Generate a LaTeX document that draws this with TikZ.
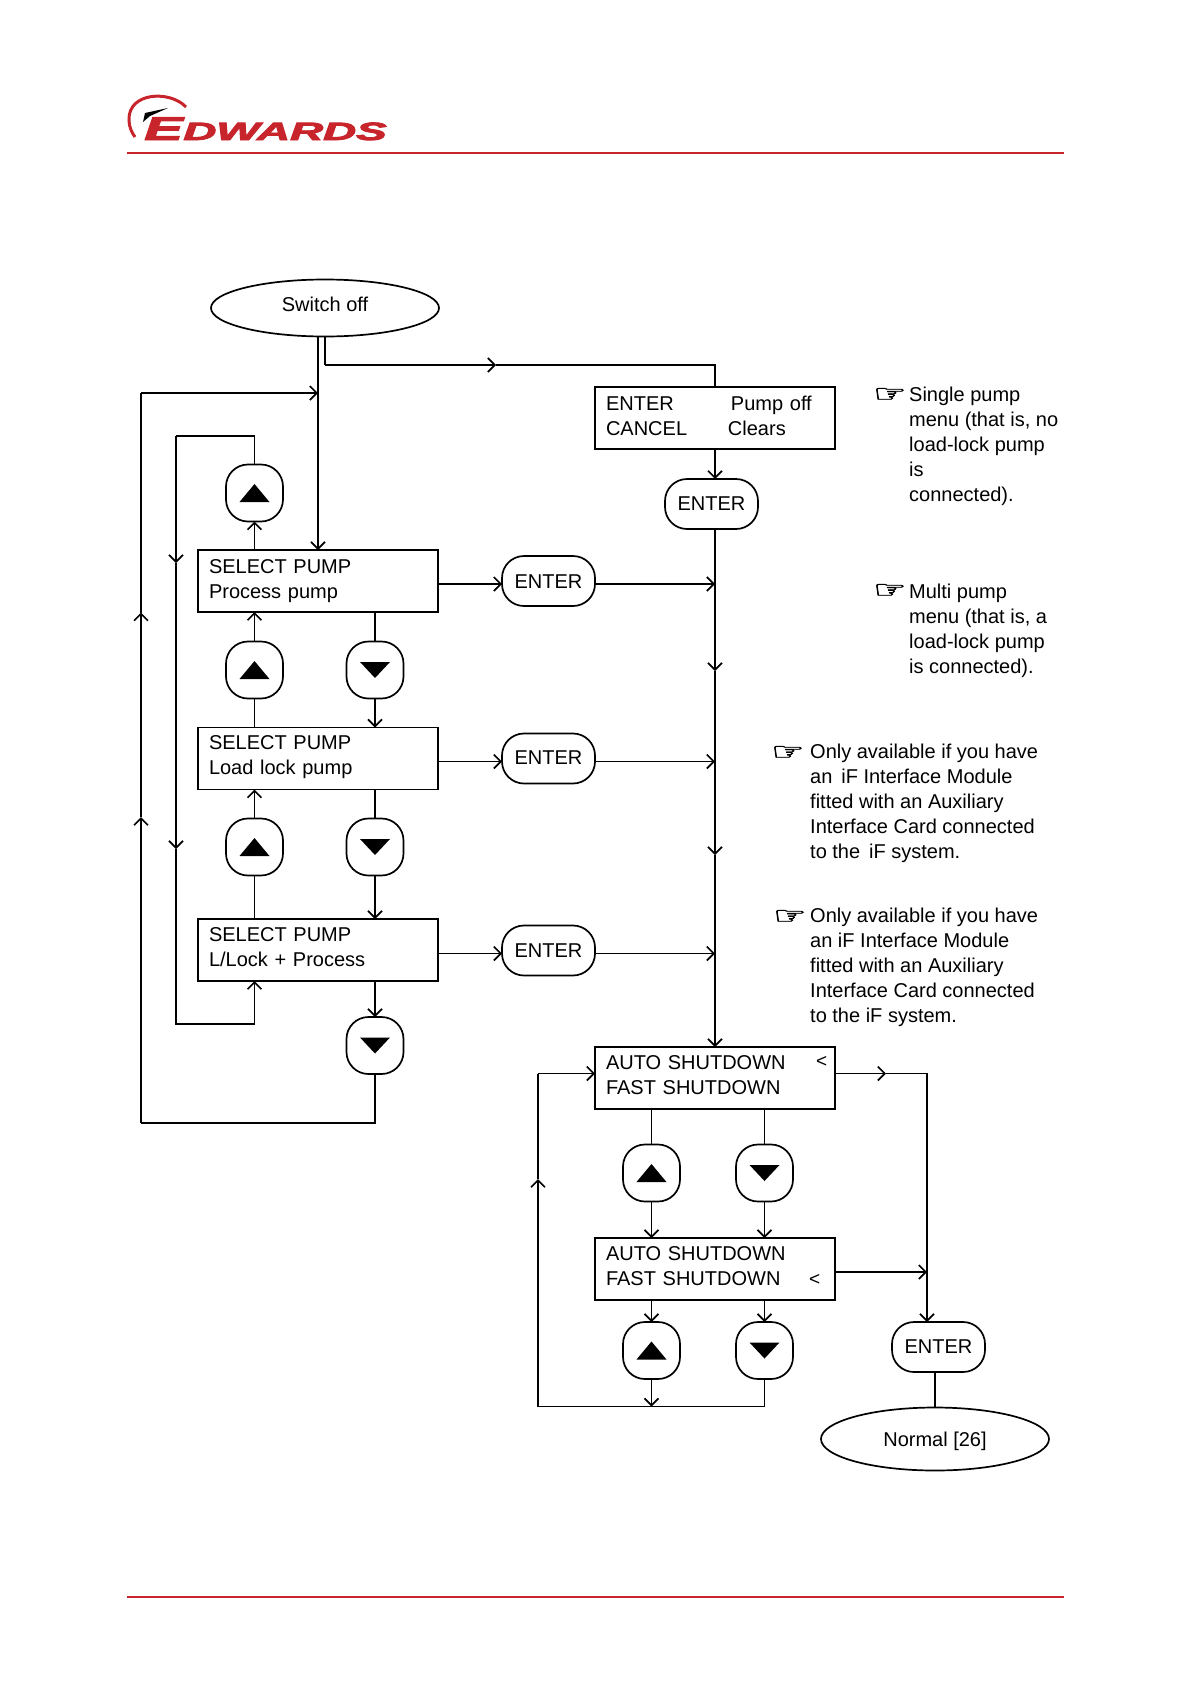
\documentclass[tikz,border=0pt]{standalone}
\usepackage{fontspec}
\setmainfont{Liberation Sans}
\newfontfamily\handfont[FakeBold=2]{DejaVu Sans}
\newfontfamily\logofont[FakeBold=3]{Liberation Sans Bold Italic}
\usetikzlibrary{arrows.meta,shapes.geometric}
\definecolor{logored}{HTML}{C8242B}
\newcommand{\textlift}[1]{\par\kern#1pt}
\newcommand{\textdrop}[2]{\raisebox{#1pt}[15pt][5pt]{#2}}

\begin{document}
\begin{tikzpicture}[x=1pt,y=-1pt]
  \useasboundingbox (0,0) rectangle (1190,1684);
  \tikzset{BoxStyle/.style = {rectangle,
                              draw,
                              line width     = 1.7pt,
                              inner xsep     = 11pt,
                              inner ysep     = 0pt,
                              outer sep      = 0pt,
                              minimum width  = 240pt,
                              minimum height = 62pt,
                              text width     = 218pt,
                              align          = left,
                              font           = \fontsize{20}{25}\selectfont}}

  \tikzset{KeyStyle/.style = {rectangle,
                              draw,
                              line width     = 1.7pt,
                              rounded corners = 22pt,
                              inner sep      = 0pt,
                              outer sep      = 0pt,
                              minimum width  = 93pt,
                              minimum height = 50pt,
                              font           = \fontsize{20}{25}\selectfont}}

  \tikzset{UpStyle/.style = {rectangle,
                             draw,
                             line width     = 1.7pt,
                             rounded corners = 22pt,
                             inner sep      = 0pt,
                             outer sep      = 0pt,
                             minimum size   = 57pt,
                             path picture   = {\fill[sharp corners] (path picture bounding box.center)
                               ++(-15,9) -- ++(30,0) -- ++(-15,-18) -- cycle;}}}

  \tikzset{DownStyle/.style = {rectangle,
                               draw,
                               line width     = 1.7pt,
                               rounded corners = 22pt,
                               inner sep      = 0pt,
                               outer sep      = 0pt,
                               minimum size   = 57pt,
                               path picture   = {\fill[sharp corners] (path picture bounding box.center)
                                 ++(-15,-8) -- ++(30,0) -- ++(-15,16) -- cycle;}}}

  \tikzset{EndStyle/.style = {ellipse,
                              draw,
                              line width     = 1.7pt,
                              inner sep      = 0pt,
                              outer sep      = 0pt,
                              minimum width  = 228pt,
                              font           = \fontsize{20}{25}\selectfont}}

  \tikzset{NoteStyle/.style = {anchor        = west,
                               inner sep     = 0pt,
                               align         = left,
                               font          = \fontsize{20}{25}\selectfont}}

  \tikzset{HandStyle/.style = {anchor        = west,
                               inner sep     = 0pt,
                               xscale        = 1.55,
                               font          = \handfont\fontsize{24}{24}\selectfont}}

  \tikzset{EdgeStyle/.style  = {line width = 1.7pt}}
  \tikzset{ArrowStyle/.style = {line width = 1.7pt,
                                -{Straight Barb[length=7pt,width=14pt]}}}
  \tikzset{RuleStyle/.style  = {line width = 1.8pt,logored}}

  % page head and foot
  \coordinate (Rule_1) at (127,153);
  \coordinate (Rule_2) at (1064,153);
  \coordinate (Rule_3) at (127,1597);
  \coordinate (Rule_4) at (1064,1597);
  \draw[RuleStyle](Rule_1) to (Rule_2);
  \draw[RuleStyle](Rule_3) to (Rule_4);

  \draw[logored,line width=3pt] (186,107) .. controls (170,90) and (128,92) .. (129,120) .. controls (129,127) and (132,133) .. (135,137);
  \fill (168,108) -- (145,113) -- (143,122) -- (150,116) -- cycle;
  \node[logored,inner sep=0pt,anchor=base west,xscale=1.75] (Logo_1) at (144,140)
    {\fontsize{33}{33}\logofont E};
  \node[logored,inner sep=0pt,anchor=base west,xscale=1.83] (Logo_2) at (183,140)
    {\fontsize{25}{25}\logofont DWARDS};

  % left column
  \node[EndStyle,minimum height=57pt] (Off) at (325,308) {\textdrop{2}{Switch off}};
  \node[BoxStyle] (Sel_1) at (318,581) {SELECT PUMP\\Process pump};
  \node[BoxStyle] (Sel_2) at (318,758.5) {SELECT PUMP\\Load lock pump\textlift{2}};
  \node[BoxStyle] (Sel_3) at (318,950) {SELECT PUMP\\L/Lock + Process\textlift{6}};

  \node[UpStyle] (Up_1) at (254.5,493) {};
  \node[UpStyle] (Up_2) at (254.5,670) {};
  \node[UpStyle] (Up_3) at (254.5,847) {};
  \node[DownStyle] (Dn_1) at (375,670) {};
  \node[DownStyle] (Dn_2) at (375,847) {};
  \node[DownStyle] (Dn_3) at (375,1045.5) {};

  \node[KeyStyle] (Ent_1) at (548.5,581) {\textdrop{-2}{ENTER}};
  \node[KeyStyle] (Ent_2) at (548.5,758.5) {\textdrop{-1}{ENTER}};
  \node[KeyStyle] (Ent_3) at (548.5,950.5) {ENTER};

  % right column
  \node[BoxStyle] (Can) at (715,418) {\makebox[125pt][l]{ENTER}Pump off\\\makebox[122pt][l]{CANCEL}Clears\textlift{4}};
  \node[KeyStyle] (Ent_0) at (711.5,504) {ENTER};
  \node[BoxStyle] (Auto_1) at (715,1078) {\makebox[210pt][l]{AUTO SHUTDOWN}{\fontsize{19}{19}\selectfont\raisebox{2pt}{<}}\\FAST SHUTDOWN\textlift{6}};
  \node[BoxStyle] (Auto_2) at (715,1269) {AUTO SHUTDOWN\\\makebox[203pt][l]{FAST SHUTDOWN}{\fontsize{19}{19}\selectfont <}\textlift{6}};

  \node[UpStyle] (Up_4) at (651.5,1173) {};
  \node[UpStyle] (Up_5) at (651.5,1350.5) {};
  \node[DownStyle] (Dn_4) at (764.5,1173) {};
  \node[DownStyle] (Dn_5) at (764.5,1350.5) {};

  \node[KeyStyle] (Ent_4) at (938.5,1347) {ENTER};
  \node[EndStyle,minimum height=63pt] (Norm) at (935,1439) {\textdrop{-2}{Normal [26]}};

  % notes
  \node[HandStyle] (Hand_1) at (873,395) {☞};
  \node[NoteStyle] (Note_1) at (909,446.5) {Single pump\\menu (that is, no\\load-lock pump\\is\\connected).};
  \node[HandStyle] (Hand_2) at (873,591) {☞};
  \node[NoteStyle] (Note_2) at (909,630.5) {Multi pump\\menu (that is, a\\load-lock pump\\is connected).};
  \node[HandStyle] (Hand_3) at (771,753) {☞};
  \node[NoteStyle] (Note_3) at (810,803) {Only available if you have\\an \,iF Interface Module\\fitted with an Auxiliary\\Interface Card connected\\to the \,iF system.};
  \node[HandStyle] (Hand_4) at (773,917) {☞};
  \node[NoteStyle] (Note_4) at (810,967.5) {Only available if you have\\an iF Interface Module\\fitted with an Auxiliary\\Interface Card connected\\to the iF system.};

  % corners and mid points of the long runs
  \coordinate (Top_1) at (325,365);
  \coordinate (Top_2) at (496,365);
  \coordinate (Top_3) at (715,365);
  \coordinate (Out_1) at (375,1123);
  \coordinate (Out_2) at (141,1123);
  \coordinate (Out_3) at (141,817);
  \coordinate (Out_4) at (141,612.5);
  \coordinate (Out_5) at (141,393);
  \coordinate (Inn_1) at (254.5,436);
  \coordinate (Inn_2) at (176,436);
  \coordinate (Inn_3) at (176,563);
  \coordinate (Inn_4) at (176,849);
  \coordinate (Inn_5) at (176,1024);
  \coordinate (Inn_6) at (254.5,1024);
  \coordinate (Main_0) at (715,584);
  \coordinate (Main_1) at (715,671);
  \coordinate (Main_2) at (715,761.5);
  \coordinate (Main_3) at (715,855);
  \coordinate (Main_4) at (715,953.5);
  \coordinate (Side_1) at (886,1073.5);
  \coordinate (Side_2) at (927,1073.5);
  \coordinate (Side_3) at (927,1272);
  \coordinate (Low_1) at (764.5,1406.5);
  \coordinate (Low_2) at (651.5,1406.5);
  \coordinate (Low_3) at (538,1406.5);
  \coordinate (Low_4) at (538,1179);
  \coordinate (Low_5) at (538,1073.5);

  \draw[EdgeStyle](Off.south) to (Top_1);
  \draw[ArrowStyle](Top_1) to (Top_2);
  \draw[EdgeStyle](Top_2) to (Top_3) to (Can.north);
  \draw[ArrowStyle](Can.south) to (Can.south |- Ent_0.north);
  \draw[EdgeStyle](Main_0 |- Ent_0.south) to (Main_0);
  \draw[ArrowStyle](Main_0) to (Main_1);
  \draw[EdgeStyle](Main_1) to (Main_2);
  \draw[ArrowStyle](Main_2) to (Main_3);
  \draw[EdgeStyle](Main_3) to (Main_4);
  \draw[ArrowStyle](Main_4) to (Auto_1.north);

  \draw[ArrowStyle](Sel_1.north |- Off.south) to (Sel_1.north);
  \draw[EdgeStyle](Dn_3.south) to (Out_1) to (Out_2);
  \draw[ArrowStyle](Out_2) to (Out_3);
  \draw[ArrowStyle](Out_3) to (Out_4);
  \draw[EdgeStyle](Out_4) to (Out_5);
  \draw[ArrowStyle](Out_5) to (Out_5 -| Sel_1.north);

  \draw[EdgeStyle](Up_1.north) to (Inn_1) to (Inn_2);
  \draw[ArrowStyle](Inn_2) to (Inn_3);
  \draw[ArrowStyle](Inn_3) to (Inn_4);
  \draw[EdgeStyle](Inn_4) to (Inn_5) to (Inn_6);
  \draw[ArrowStyle](Inn_6) to (Inn_6 |- Sel_3.south);

  \draw[ArrowStyle](Up_1 |- Sel_1.north) to (Up_1.south);
  \draw[ArrowStyle](Up_2.north) to (Up_2 |- Sel_1.south);
  \draw[EdgeStyle](Up_2.south) to (Up_2 |- Sel_2.north);
  \draw[EdgeStyle](Dn_1 |- Sel_1.south) to (Dn_1.north);
  \draw[ArrowStyle](Dn_1.south) to (Dn_1 |- Sel_2.north);
  \draw[ArrowStyle](Up_3.north) to (Up_3 |- Sel_2.south);
  \draw[EdgeStyle](Up_3.south) to (Up_3 |- Sel_3.north);
  \draw[EdgeStyle](Dn_2 |- Sel_2.south) to (Dn_2.north);
  \draw[ArrowStyle](Dn_2.south) to (Dn_2 |- Sel_3.north);
  \draw[ArrowStyle](Dn_3 |- Sel_3.south) to (Dn_3.north);

  \draw[ArrowStyle](Sel_1.east |- Main_0) to (Ent_1.west |- Main_0);
  \draw[ArrowStyle](Sel_2.east |- Main_2) to (Ent_2.west |- Main_2);
  \draw[ArrowStyle](Sel_3.east |- Main_4) to (Ent_3.west |- Main_4);
  \draw[ArrowStyle](Ent_1.east |- Main_0) to (Main_0);
  \draw[ArrowStyle](Ent_2.east |- Main_2) to (Main_2);
  \draw[ArrowStyle](Ent_3.east |- Main_4) to (Main_4);

  \draw[EdgeStyle](Up_4 |- Auto_1.south) to (Up_4.north);
  \draw[EdgeStyle](Dn_4 |- Auto_1.south) to (Dn_4.north);
  \draw[ArrowStyle](Up_4.south) to (Up_4 |- Auto_2.north);
  \draw[ArrowStyle](Dn_4.south) to (Dn_4 |- Auto_2.north);
  \draw[ArrowStyle](Up_5 |- Auto_2.south) to (Up_5.north);
  \draw[ArrowStyle](Dn_5 |- Auto_2.south) to (Dn_5.north);
  \draw[ArrowStyle](Up_5.south) to (Low_2);
  \draw[EdgeStyle](Dn_5.south) to (Low_1) to (Low_3);
  \draw[ArrowStyle](Low_3) to (Low_4);
  \draw[EdgeStyle](Low_4) to (Low_5);
  \draw[ArrowStyle](Low_5) to (Low_5 -| Auto_1.west);

  \draw[ArrowStyle](Side_2 -| Auto_1.east) to (Side_1);
  \draw[EdgeStyle](Side_1) to (Side_2) to (Side_3);
  \draw[ArrowStyle](Side_3) to (Side_3 |- Ent_4.north);
  \draw[ArrowStyle](Side_3 -| Auto_2.east) to (Side_3);
  \draw[EdgeStyle](Norm.north |- Ent_4.south) to (Norm.north);
\end{tikzpicture}
\end{document}
